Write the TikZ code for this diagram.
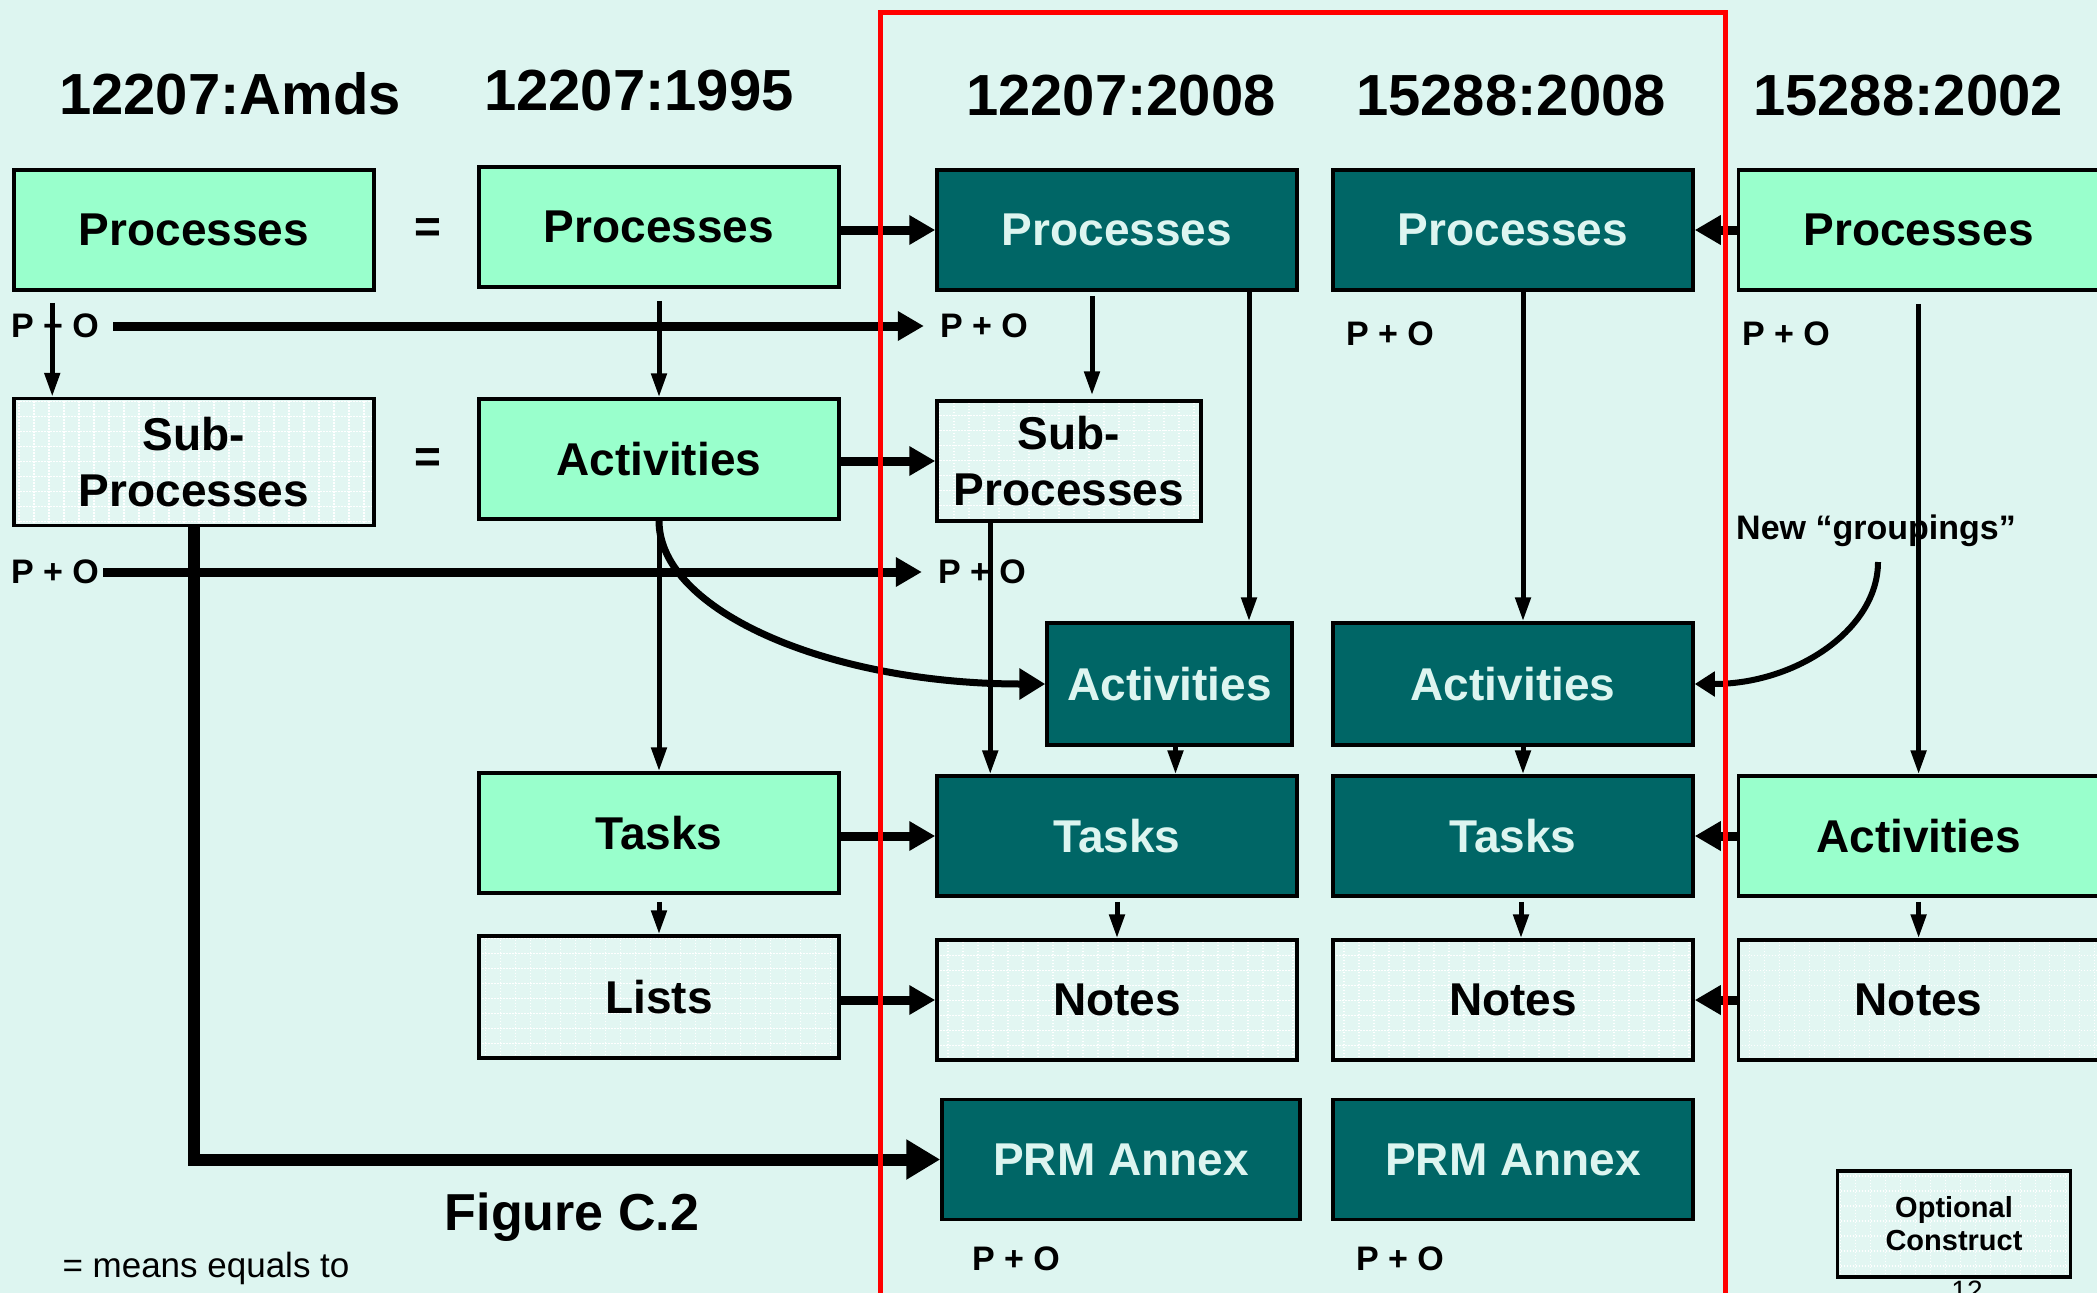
\documentclass[tikz,border=0pt]{standalone}
\usepackage{fontspec}
\setmainfont{Liberation Sans}
\usetikzlibrary{arrows.meta}
\definecolor{bgmint}{RGB}{221,245,240}
\definecolor{lgreen}{RGB}{153,255,204}
\definecolor{tealbox}{RGB}{0,102,102}
\definecolor{tealtext}{RGB}{221,245,240}
\definecolor{chkfill}{RGB}{226,246,242}
\newcommand\bxfont{\fontsize{46pt}{56pt}\selectfont\bfseries}
\newcommand\hdfont{\fontsize{58pt}{62pt}\selectfont\bfseries}
\newcommand\pofont{\fontsize{34pt}{38pt}\selectfont\bfseries}
\begin{document}
\begin{tikzpicture}[x=1pt,y=-1pt,
  box/.style={draw=black, line width=3.5pt, inner sep=0pt, align=center,
    minimum width=360pt, minimum height=120pt, font=\bxfont},
  lgbox/.style={box, fill=lgreen, text=black},
  tlbox/.style={box, fill=tealbox, text=tealtext},
  ckbox/.style={box, fill=chkfill, text=black,
    path picture={\draw[white, line width=1.3pt, dash pattern=on 1.5pt off 1.5pt]
      (path picture bounding box.south west) grid[step=15pt]
      (path picture bounding box.north east);}},
  head/.style={font=\hdfont, inner sep=0pt},
  lbl/.style={font=\pofont, inner sep=0pt},
  thinarr/.style={line width=5pt, -{Triangle[length=24pt,width=15pt]}},
  thickarr/.style={line width=9pt, -{Triangle[length=26pt,width=28pt]}},
]
\useasboundingbox (0,0) rectangle (2097,1293);
\fill[bgmint] (0,0) rectangle (2097,1293);

% column headings
\node[head] (h1) at (230,94) {12207:Amds};
\node[head] (h2) at (639,91) {12207:1995};
\node[head] (h3) at (1121,96) {12207:2008};
\node[head] (h4) at (1511,96) {15288:2008};
\node[head] (h5) at (1908,96) {15288:2002};

% 12207:Amds
\node[lgbox] (p1) at (194,230) {Processes};
\node[ckbox, minimum height=127pt] (sp1) at (194,462) {Sub-\\Processes};

% equality marks
\node[font=\bxfont, inner sep=0pt] (eq1) at (428,231) {=};
\node[font=\bxfont, inner sep=0pt] (eq2) at (428,461) {=};

% 12207:1995
\node[lgbox] (p2) at (659,227) {Processes};
\node[lgbox] (a2) at (659,459) {Activities};
\node[lgbox] (t2) at (659,833) {Tasks};
\node[ckbox, minimum height=122pt] (l2) at (659,997) {Lists};

% 12207:2008
\node[tlbox] (p3) at (1117,230) {Processes};
\node[ckbox, minimum width=264pt] (sp3) at (1069,461) {Sub-\\Processes};
\node[tlbox, minimum width=245pt, minimum height=122pt] (a3) at (1169.5,684) {Activities};
\node[tlbox] (t3) at (1117,836) {Tasks};
\node[ckbox] (n3) at (1117,1000) {Notes};
\node[tlbox, minimum width=358pt] (prm3) at (1121,1159.5) {PRM Annex};

% 15288:2008
\node[tlbox] (p4) at (1513,230) {Processes};
\node[tlbox, minimum height=122pt] (a4) at (1513,684) {Activities};
\node[tlbox] (t4) at (1513,836) {Tasks};
\node[ckbox] (n4) at (1513,1000) {Notes};
\node[tlbox] (prm4) at (1513,1159.5) {PRM Annex};

% 15288:2002
\node[lgbox] (p5) at (1918.6,230) {Processes};
\node[lgbox] (a5) at (1918.6,836) {Activities};
\node[ckbox] (n5) at (1918.6,1000) {Notes};

% legend box
\node[ckbox, minimum width=233pt, minimum height=106pt,
  font=\fontsize{29pt}{33pt}\selectfont\bfseries] (opt) at (1954,1224) {Optional\\Construct};
\node[font=\fontsize{28pt}{30pt}\selectfont, inner sep=0pt, anchor=north] (pg) at (1967,1281) {12};

% P + O labels
\node[lbl] (po1) at (55,326) {P + O};
\node[lbl] (po3) at (984,326) {P + O};
\node[lbl] (po2) at (55,572) {P + O};
\node[lbl] (po4) at (982,572) {P + O};
\node[lbl] (po5) at (1390,334) {P + O};
\node[lbl] (po6) at (1786,334) {P + O};
\node[lbl] (po7) at (1016,1259) {P + O};
\node[lbl] (po8) at (1400,1259) {P + O};
\node[lbl] (grp) at (1876,531) {New “groupings”};

% captions
\node[font=\fontsize{52pt}{56pt}\selectfont\bfseries, inner sep=0pt] (fig) at (572,1217) {Figure C.2};
\node[font=\fontsize{35pt}{40pt}\selectfont, inner sep=0pt] (eqnote) at (206,1268) {= means equals to};

% decomposition arrows
\draw[thinarr, shorten <=11pt] ([xshift=40pt]p1.south west) -- ([xshift=40pt]sp1.north west);
\draw[thinarr, shorten <=12pt] (p2.south) -- (a2.north);
\draw[thinarr] (a2.south) -- (t2.north);
\draw[thinarr, shorten <=7pt] (t2.south) -- (l2.north);
\draw[thinarr, shorten <=4pt, shorten >=4pt] ([xshift=-25pt]p3.south) -- ([xshift=-25pt]p3.south |- sp3.north);
\draw[thinarr] ([xshift=132pt]p3.south) -- ([xshift=132pt]p3.south |- a3.north);
\draw[thinarr] ([xshift=55pt]sp3.south west) -- ([xshift=55pt]sp3.south west |- t3.north);
\draw[thinarr] ([xshift=6pt]a3.south) -- ([xshift=6pt]a3.south |- t3.north);
\draw[thinarr, shorten <=4pt] (t3.south) -- (n3.north);
\draw[thinarr] ([xshift=10pt]p4.south) -- ([xshift=10pt]a4.north);
\draw[thinarr] ([xshift=10pt]a4.south) -- ([xshift=10pt]t4.north);
\draw[thinarr, shorten <=4pt] ([xshift=8pt]t4.south) -- ([xshift=8pt]n4.north);
\draw[thinarr, shorten <=12pt] (p5.south) -- (a5.north);
\draw[thinarr, shorten <=4pt] (a5.south) -- (n5.north);

% mapping arrows between standards
\draw[thickarr] (p2.east |- p3.west) -- (p3.west);
\draw[thickarr] (a2.east |- sp3.west) -- (sp3.west);
\draw[thickarr] (t2.east |- t3.west) -- (t3.west);
\draw[thickarr] (l2.east |- n3.west) -- (n3.west);
\draw[thickarr] (p5.west) -- (p4.east);
\draw[thickarr] (a5.west) -- (t4.east);
\draw[thickarr] (n5.west) -- (n4.east);
\draw[thickarr, shorten <=14pt, shorten >=16pt] (po1.east) -- (po3.west);
\draw[thickarr, shorten <=4pt, shorten >=16pt] (po2.east) -- (po4.west);
\draw[line width=12pt, -{Triangle[length=34pt,width=38pt]}] (sp1.south) |- (prm3.west);
\draw[line width=7pt, -{Triangle[length=26pt,width=30pt]}]
  (a2.south) .. controls +(0,91) and +(-214,0) .. (a3.west);
\coordinate (grpend) at (1878,562);
\draw[line width=6pt, -{Triangle[length=20pt,width=24pt]}]
  (grpend) .. controls +(0,67) and +(102,0) .. (a4.east);

% frame around the 2008 editions
\draw[red, line width=5pt] (880,12) rectangle (1725,1330);
\end{tikzpicture}
\end{document}
